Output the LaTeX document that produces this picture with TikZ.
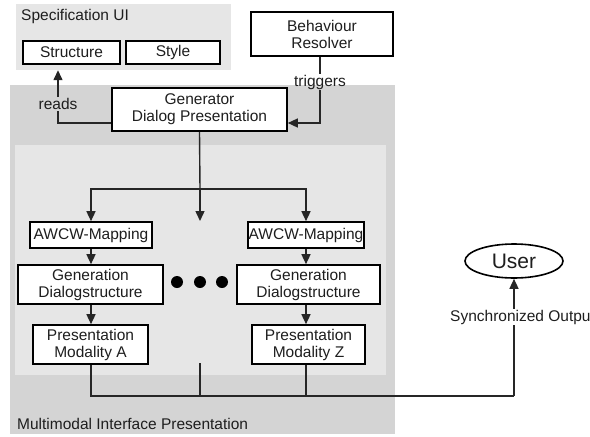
\documentclass[tikz,border=0pt]{standalone}
\usepackage{fontspec}
\setmainfont{Liberation Sans}
\usetikzlibrary{arrows.meta,shapes.geometric}
\definecolor{specgray}{HTML}{E6E6E6}
\definecolor{outergray}{HTML}{D4D4D4}
\definecolor{innergray}{HTML}{E6E6E6}
\definecolor{txt}{HTML}{1E1E1E}
\tikzset{
  box/.style={draw=black, line width=1.6pt, fill=white, inner sep=0pt, align=center, text=txt,
    font=\fontsize{15.5}{17}\selectfont},
  lbl/.style={inner sep=1pt, text=txt, font=\fontsize{15.5}{17}\selectfont},
  conn/.style={line width=1.4pt, draw=black!85},
  arr/.style={conn, -{Triangle[length=10pt,width=9pt]}},
  dot/.style={circle, fill=black, inner sep=0pt, minimum size=12pt},
}
\begin{document}
\begin{tikzpicture}[x=1pt,y=-1pt]
\useasboundingbox (0,0) rectangle (590,437);
% regions
\node[fill=specgray, minimum width=215pt, minimum height=66pt, inner sep=0pt] (spec) at (123.5,37) {};
\node[lbl, anchor=west] (specl) at (20,16) {Specification UI};
\fill[outergray] (10,85) rectangle (395,434);
\fill[innergray] (15,145) rectangle (386,375);
\node[lbl, anchor=west] (mmil) at (16,424) {Multimodal Interface Presentation};
% nodes
\node[box, minimum width=97pt, minimum height=23pt] (struct) at (71.5,52.5) {Structure};
\node[box, minimum width=94pt, minimum height=23pt] (style) at (173,52.5) {Style};
\node[box, minimum width=142pt, minimum height=44pt] (beh) at (322,34) {Behaviour\\Resolver};
\node[box, minimum width=175pt, minimum height=43pt] (gen) at (199.5,109.5) {Generator\\Dialog Presentation};
\node[box, minimum width=122pt, minimum height=26pt] (awL) at (91,235) {AWCW-Mapping};
\node[box, minimum width=116pt, minimum height=26pt] (awR) at (306,235) {AWCW-Mapping};
\node[box, minimum width=145pt, minimum height=39pt] (gdL) at (90.5,284.5) {Generation\\Dialogstructure};
\node[box, minimum width=143pt, minimum height=39pt] (gdR) at (308.5,284.5) {Generation\\Dialogstructure};
\node[box, minimum width=115pt, minimum height=39pt] (pmL) at (90.5,344.5) {Presentation\\Modality A};
\node[box, minimum width=113pt, minimum height=39pt] (pmR) at (308.5,344.5) {Presentation\\Modality Z};
\node[dot] (d1) at (177,282) {};
\node[dot] (d2) at (200,282) {};
\node[dot] (d3) at (222,282) {};
\node[draw=black, line width=1.6pt, ellipse, fill=white, minimum width=98pt, minimum height=34pt, inner sep=0pt,
  font=\fontsize{21}{23}\selectfont, text=txt] (user) at (514,261) {User};
% labels on connectors
\node[lbl] (reads) at (58,104) {reads};
\node[lbl] (trig) at (320,82) {triggers};
\node[lbl, anchor=west] (sync) at (449,317) {Synchronized Output};
% coordinates
\coordinate (split) at (200,189);
\coordinate (midend) at (200,221);
\coordinate (stub) at (200,363);
\coordinate (bus) at (200,396);
\coordinate (busR) at (514,396);
% connectors
\draw[conn] ([yshift=-13.5pt]gen.west) -| (reads.south);
\draw[arr] (reads.north) -- (reads.north |- spec.south);
\draw[conn] (beh.south -| trig) -- (trig.north);
\draw[arr] (trig.south) |- ([yshift=-13.5pt]gen.east);
\draw[conn] (gen.south) -- (split);
\draw[arr] (split) -- (midend);
\draw[arr] (split) -| (awL.north);
\draw[arr] (split) -| (awR.north);
\draw[arr] (awL.south) -- (awL.south |- gdL.north);
\draw[arr] (awR.south) -- (awR.south |- gdR.north);
\draw[arr] (gdL.south -| awL) -- (pmL.north -| awL);
\draw[arr] (gdR.south -| awR) -- (pmR.north -| awR);
\draw[conn] (pmL.south -| awL) |- (busR);
\draw[conn] (pmR.south -| awR) -- (awR |- bus);
\draw[conn] (stub) -- (bus);
\draw[conn] (busR) -- (busR |- sync.south);
\draw[arr] (busR |- sync.north) -- (user.south);
\end{tikzpicture}
\end{document}
